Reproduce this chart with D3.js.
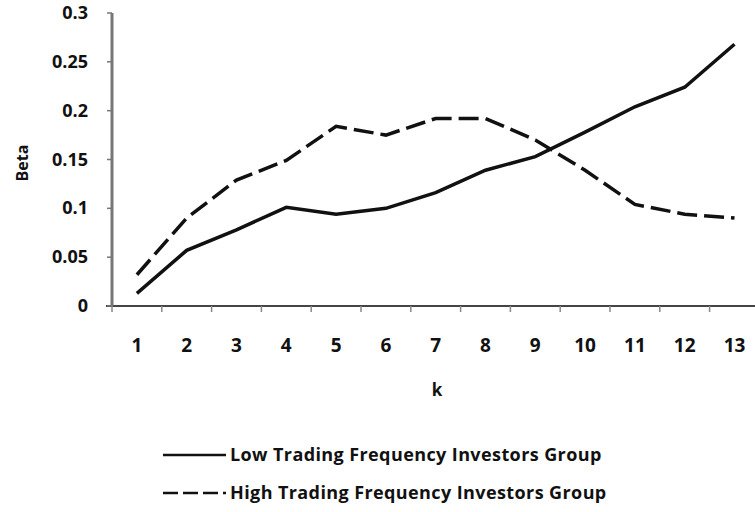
<!DOCTYPE html>
<html>
<head>
<meta charset="utf-8">
<script src="https://cdn.jsdelivr.net/npm/d3@7"></script>
<style>
  body { margin: 0; background: #fff; }
  text { font-family: "Open Sans", sans-serif; font-weight: bold; fill: #111; }
</style>
</head>
<body>
<div id="chart"></div>
<script>
let width = 755,
  height = 512

// data
let ks = [1, 2, 3, 4, 5, 6, 7, 8, 9, 10, 11, 12, 13]
let lowFreq = [0.013, 0.057, 0.078, 0.101, 0.094, 0.100, 0.116, 0.139, 0.153, 0.178, 0.204, 0.224, 0.268]
let highFreq = [0.032, 0.090, 0.129, 0.149, 0.184, 0.175, 0.192, 0.192, 0.170, 0.139, 0.104, 0.094, 0.090]
let yTicks = [0, 0.05, 0.1, 0.15, 0.2, 0.25, 0.3]
let seriesNames = ['Low Trading Frequency Investors Group', 'High Trading Frequency Investors Group']

let svg = d3.select('#chart')
  .append('svg')
  .attr('width', width)
  .attr('height', height)

let x = d3.scaleBand()
  .domain(ks)
  .range([112, 112 + 13 * 49.8])

let y = d3.scaleLinear()
  .domain([0, 0.3])
  .range([306, 13])

// axes
svg.append('line')
  .attr('x1', 106).attr('x2', 755)
  .attr('y1', y(0)).attr('y2', y(0))
  .attr('stroke', '#444').attr('stroke-width', 2)

svg.append('line')
  .attr('x1', 112).attr('x2', 112)
  .attr('y1', y(0.3)).attr('y2', y(0))
  .attr('stroke', '#777').attr('stroke-width', 3)

svg.selectAll('.ytick')
  .data(yTicks)
  .enter().append('line')
  .attr('x1', 107).attr('x2', 112)
  .attr('y1', d => y(d)).attr('y2', d => y(d))
  .attr('stroke', '#777').attr('stroke-width', 1.5)

svg.selectAll('.ylab')
  .data(yTicks)
  .enter().append('text')
  .attr('x', 88)
  .attr('y', d => y(d) + 6)
  .attr('text-anchor', 'end')
  .attr('font-size', '18px')
  .text(d => d)

svg.selectAll('.xtick')
  .data(ks)
  .enter().append('line')
  .attr('x1', d => x(d)).attr('x2', d => x(d))
  .attr('y1', y(0)).attr('y2', y(0) + 6)
  .attr('stroke', '#888').attr('stroke-width', 1.5)

svg.selectAll('.xlab')
  .data(ks)
  .enter().append('text')
  .attr('x', d => x(d) + x.bandwidth() / 2)
  .attr('y', 352)
  .attr('text-anchor', 'middle')
  .attr('font-size', '19px')
  .text(d => d)

// axis titles
svg.append('text')
  .attr('transform', 'translate(28,163) rotate(-90)')
  .attr('text-anchor', 'middle')
  .attr('font-size', '16px')
  .text('Beta')

svg.append('text')
  .attr('x', 437).attr('y', 396)
  .attr('text-anchor', 'middle')
  .attr('font-size', '17px')
  .text('k')

// lines
let line = d3.line()
  .x((d, i) => x(ks[i]) + x.bandwidth() / 2)
  .y(d => y(d))

svg.append('path')
  .datum(lowFreq)
  .attr('d', line)
  .attr('fill', 'none')
  .attr('stroke', '#111')
  .attr('stroke-width', 3.5)

svg.append('path')
  .datum(highFreq)
  .attr('d', line)
  .attr('fill', 'none')
  .attr('stroke', '#111')
  .attr('stroke-width', 3.5)
  .attr('stroke-dasharray', '20,7')

// legend
let legend = svg.selectAll('.legend')
  .data(seriesNames)
  .enter().append('g')
  .attr('transform', (d, i) => `translate(163,${455 + i * 38})`)

legend.append('line')
  .attr('x1', 0).attr('x2', 63)
  .attr('y1', 0).attr('y2', 0)
  .attr('stroke', '#111')
  .attr('stroke-width', 2.5)
  .attr('stroke-dasharray', (d, i) => i ? '15,5' : null)

legend.append('text')
  .attr('x', 67)
  .attr('y', 6)
  .attr('font-size', '18px')
  .attr('letter-spacing', '0.4px')
  .text(d => d)
</script>
</body>
</html>
